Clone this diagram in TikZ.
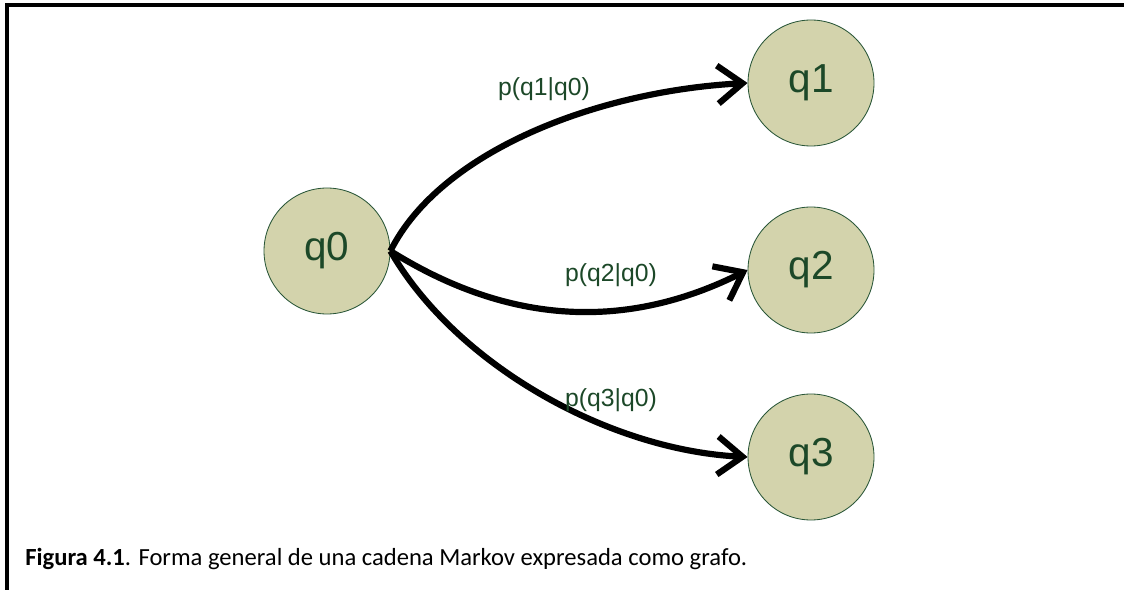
\documentclass[tikz,border=0pt]{standalone}
\usepackage{fontspec}
\setmainfont{Liberation Sans}
\newfontfamily\captionfont{Carlito}
\usetikzlibrary{arrows.meta}
\definecolor{stfill}{RGB}{211,211,172}
\definecolor{stdraw}{RGB}{40,85,55}
\definecolor{sttext}{RGB}{28,72,40}
\tikzset{
	state/.style={circle,draw=stdraw,line width=0.6pt,fill=stfill,text=sttext,minimum size=126*0.025cm,inner sep=0pt,font=\fontsize{28.8}{32}\selectfont},
	trans/.style={line width=4.4pt,line join=round,-{Straight Barb[length=0.62cm,width=0.95cm,line width=4.4pt]}},
	prob/.style={text=sttext,inner sep=0pt,font=\fontsize{17.6}{20}\selectfont}
}
\begin{document}
\begin{tikzpicture}[x=0.025cm,y=-0.025cm]
		\useasboundingbox (0,0) rectangle (1124,590);
		%frame
		\draw[line width=2.2pt] (7,590) -- (7,5) -- (1124,5);
		%states
		\node[state](q0) at (327,251) {q0};
		\node[state](q1) at (811,83) {q1};
		\node[state](q2) at (811,270) {q2};
		\node[state](q3) at (811,457) {q3};
		%arrows
		\draw[trans] (q0.east) .. controls +(50,-100) and +(-150,8) .. (q1.west);
		\draw[trans] (q0.east) .. controls +(120,75) and +(-120,60) .. (q2.west);
		\draw[trans] (q0.east) .. controls +(65,113) and +(-140,-7) .. (q3.west);
		%labels
		\node[prob](l1) at (544,89) {p(q1|q0)};
		\node[prob](l2) at (611,275) {p(q2|q0)};
		\node[prob](l3) at (611,400) {p(q3|q0)};
		\node[anchor=base west,inner sep=0pt,font=\captionfont\fontsize{17.5}{21}\selectfont](cap) at (25,565) {\textbf{Figura 4.1}. Forma general de una cadena Markov expresada como grafo.};
\end{tikzpicture}
\end{document}
